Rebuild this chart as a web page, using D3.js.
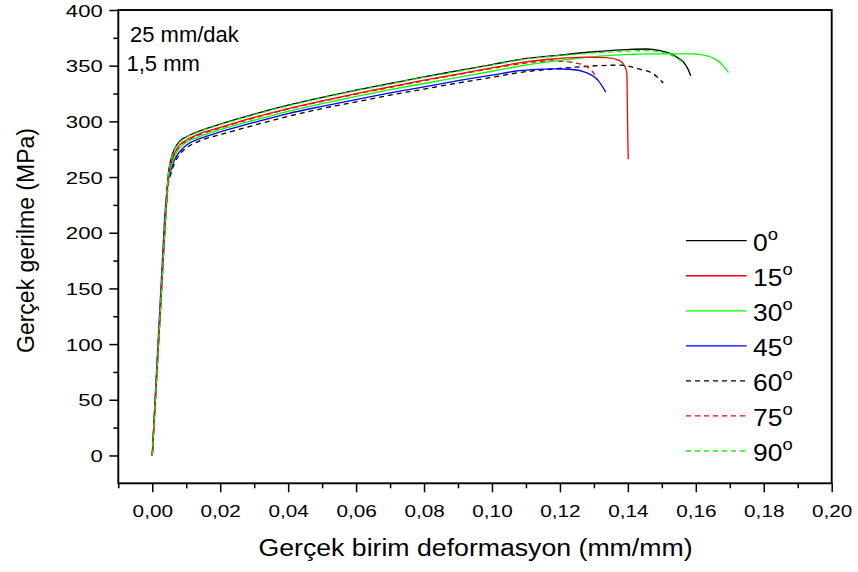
<!DOCTYPE html>
<html><head><meta charset="utf-8">
<script src="https://cdn.jsdelivr.net/npm/d3@7"></script>
<style>
body{margin:0;background:#fff}
svg text{font-family:"Liberation Sans",Arial,sans-serif;fill:#000}
</style>
</head><body>
<svg id="chart" width="858" height="572"></svg>
<script>
// ---- data ----
const xTickValues = [0,0.02,0.04,0.06,0.08,0.10,0.12,0.14,0.16,0.18,0.20];
const xMinorValues = [-0.01,0.01,0.03,0.05,0.07,0.09,0.11,0.13,0.15,0.17,0.19];
const yTickValues = [0,50,100,150,200,250,300,350,400];
const yMinorValues = [25,75,125,175,225,275,325,375];
const seriesNames = ["0","15","30","45","60","75","90"];
const annotations = ["25 mm/dak","1,5 mm"];
const xTitle = "Gerçek birim deformasyon (mm/mm)";
const yTitle = "Gerçek gerilme (MPa)";

const s0 = [[0,0],[0.001,55],[0.002,110],[0.003,165],[0.004,220],[0.0047,252],[0.0055,266],[0.0065,275],[0.008,282],[0.010,286],[0.014,291.5],[0.02,297.5],[0.03,306.5],[0.04,314.5],[0.05,321.5],[0.06,328],[0.07,334],[0.08,340],[0.09,345.5],[0.10,351],[0.108,355.5],[0.12,359.5],[0.13,362.5],[0.14,364.5],[0.1455,365],[0.1495,363.5],[0.1524,361],[0.1545,357.5],[0.1563,353.5],[0.1575,348],[0.1585,341]];
const s15 = [[0,0],[0.001,55],[0.002,110],[0.003,165],[0.004,219],[0.0047,249],[0.0055,262],[0.0065,271],[0.008,278.5],[0.010,283],[0.014,289],[0.02,294.5],[0.03,303.5],[0.04,311.5],[0.05,318.5],[0.06,325],[0.07,331],[0.08,337],[0.09,342.5],[0.10,348],[0.108,352.5],[0.118,356],[0.1278,357.6],[0.1337,357.3],[0.1376,354.6],[0.1391,349.5],[0.1397,343],[0.1399,300],[0.1401,266]];
const s30 = [[0,0],[0.001,55],[0.002,110],[0.003,164],[0.004,218],[0.0047,247],[0.0055,259],[0.0065,268],[0.008,276],[0.010,281],[0.014,286.5],[0.02,292.5],[0.03,301],[0.04,309],[0.05,316],[0.06,322.5],[0.07,328.5],[0.08,334],[0.09,339.5],[0.10,345],[0.108,349.5],[0.118,354],[0.1278,357.5],[0.1375,359.7],[0.1474,360.6],[0.1592,360.6],[0.163,359],[0.1661,355.2],[0.168,350],[0.1696,343.8]];
const s45 = [[0,0],[0.0008,50],[0.0018,108],[0.0028,165],[0.0038,220],[0.0046,245],[0.0055,256],[0.0065,265],[0.008,272.5],[0.010,278.5],[0.014,284.5],[0.02,290.5],[0.03,299],[0.04,307],[0.05,313.5],[0.06,319.5],[0.07,325.5],[0.08,331],[0.09,336.5],[0.10,341.5],[0.108,345.5],[0.118,347.1],[0.1229,346.8],[0.1278,343.8],[0.1313,336.6],[0.1335,326.2]];
const s60 = [[0,0],[0.001,54],[0.002,108],[0.003,163],[0.004,216],[0.0047,243],[0.0055,253],[0.0065,262],[0.008,270],[0.010,276],[0.014,282.5],[0.02,288],[0.03,296.5],[0.04,304.5],[0.05,311.5],[0.06,317.5],[0.07,323.5],[0.08,329],[0.09,334.5],[0.10,339.5],[0.108,343.8],[0.118,347],[0.1229,348.3],[0.1376,350.5],[0.1435,346.8],[0.1475,342.6],[0.1504,334.3]];
const s75 = [[0,0],[0.001,55],[0.002,110],[0.003,165],[0.004,219],[0.0047,248],[0.0055,261],[0.0065,270],[0.008,277.5],[0.010,282],[0.014,288],[0.02,294],[0.03,303],[0.04,311],[0.05,318],[0.06,324.5],[0.07,330.5],[0.08,336.5],[0.09,342],[0.10,347.5],[0.108,351.5],[0.118,354.3],[0.1239,352.8],[0.1278,349.2],[0.1295,345],[0.131,337.5]];
const s90 = [[0,0],[0.001,55],[0.002,110],[0.003,165],[0.004,220],[0.0047,251],[0.0055,265],[0.0065,274],[0.008,281],[0.010,285.5],[0.014,291],[0.02,297],[0.03,306],[0.04,314],[0.05,321],[0.06,327.5],[0.07,333.5],[0.08,339.5],[0.09,345],[0.10,350.5],[0.108,355],[0.12,359],[0.13,361.5],[0.14,363],[0.1455,363.5],[0.15,362],[0.1535,358.5],[0.1568,351.5]];
const allSeries = [s0,s15,s30,s45,s60,s75,s90];

// ---- styles ----
const colors = ["#000000","#ff0000","#00ff00","#0000ff","#000000","#ff0000","#00ff00"];
const dashes = [null,null,null,null,"5,4","5,4","5,4"];

// ---- layout ----
const svg = d3.select("#chart");
const L = 118.3, R = 831.7, T = 10, B = 483.3;
const x = d3.scaleLinear().domain([-0.01,0.20]).range([L,R]);
const y = d3.scaleLinear().domain([-25,400]).range([B,T]);

const fmt = v => d3.format(".2f")(v).replace(".",",");

// axes
const xMajor = svg.append("g").attr("transform",`translate(0,${B})`)
  .call(d3.axisBottom(x).tickValues(xTickValues).tickSize(9).tickSizeOuter(0).tickPadding(13).tickFormat(fmt));
const xMinor = svg.append("g").attr("transform",`translate(0,${B})`)
  .call(d3.axisBottom(x).tickValues(xMinorValues).tickSize(5).tickSizeOuter(0).tickFormat(""));
const yMajor = svg.append("g").attr("transform",`translate(${L},0)`)
  .call(d3.axisLeft(y).tickValues(yTickValues).tickSize(9).tickSizeOuter(0).tickPadding(6));
const yMinor = svg.append("g").attr("transform",`translate(${L},0)`)
  .call(d3.axisLeft(y).tickValues(yMinorValues).tickSize(5).tickSizeOuter(0).tickFormat(""));
[xMajor,xMinor,yMajor,yMinor].forEach(g=>{
  g.select(".domain").remove();
  g.selectAll("line").attr("stroke","#000").attr("stroke-width",1.5);
});
const sx = 1.22;
xMajor.selectAll("text").attr("font-size",17).attr("dy",null).attr("y",0)
  .attr("transform",`translate(0,${517.3-B}) scale(${sx},1)`)
  .attr("font-family","Liberation Sans, Arial, sans-serif");
yMajor.selectAll("text").attr("font-size",17).attr("dy",null).attr("x",0).attr("y",0)
  .attr("transform",`translate(${102.7-L},6.2) scale(${sx+0.08},1)`)
  .attr("font-family","Liberation Sans, Arial, sans-serif");

// frame
svg.append("rect").attr("x",L).attr("y",T).attr("width",R-L).attr("height",B-T)
  .attr("fill","none").attr("stroke","#000").attr("stroke-width",1.9);

// curves
const line = d3.line().x(d=>x(d[0])).y(d=>y(d[1])).curve(d3.curveMonotoneX);
svg.append("clipPath").attr("id","clp").append("rect")
  .attr("x",L).attr("y",T).attr("width",R-L).attr("height",B-T);
const plot = svg.append("g").attr("clip-path","url(#clp)");
const order = [4,5,0,3,2,1,6];
order.forEach(i=>{
  plot.append("path").datum(allSeries[i]).attr("d",line)
    .attr("fill","none").attr("stroke",colors[i]).attr("stroke-width",1.3)
    .attr("stroke-dasharray",dashes[i]);
});

// annotations
svg.append("text").attr("x",130).attr("y",41.7).attr("font-size",22).text(annotations[0]);
svg.append("text").attr("x",126.5).attr("y",71).attr("font-size",22).text(annotations[1]);

// legend
const legY0 = 240.7, legDY = 35.05;
const leg = svg.append("g");
seriesNames.forEach((n,i)=>{
  const yy = legY0 + i*legDY;
  leg.append("line").attr("x1",686).attr("x2",746.7).attr("y1",yy).attr("y2",yy)
    .attr("stroke",colors[i]).attr("stroke-width",1.3).attr("stroke-dasharray",dashes[i]);
  const t = leg.append("text").attr("transform",`translate(753,${yy+10}) scale(1.15,1)`).attr("font-size",23);
  t.append("tspan").text(n);
  t.append("tspan").attr("font-size",16).attr("dy",-11).text("o");
});

// axis titles
svg.append("text").attr("transform",`translate(475.5,556) scale(1.16,1)`).attr("text-anchor","middle")
  .attr("font-size",23).text(xTitle);
svg.append("text").attr("transform",`translate(34,240.5) rotate(-90)`).attr("text-anchor","middle")
  .attr("font-size",23).text(yTitle);
</script>
</body></html>
